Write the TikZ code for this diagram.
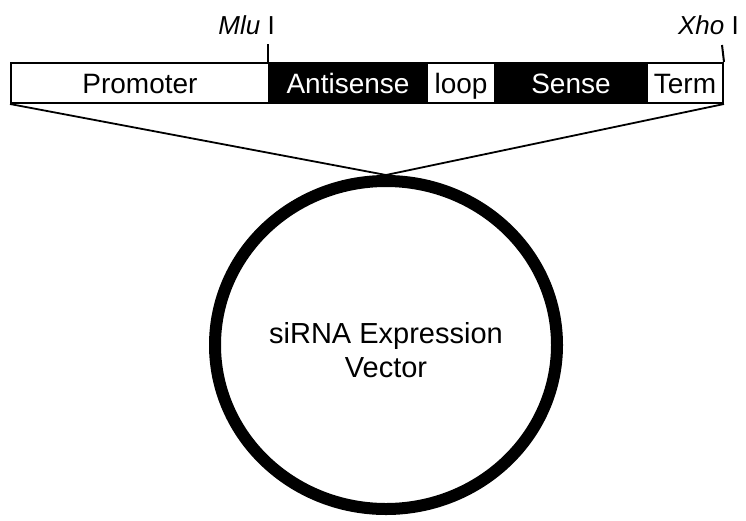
\documentclass[tikz,border=0pt]{standalone}
\usepackage{fontspec}
\setmainfont{Liberation Sans}
\usetikzlibrary{shapes.geometric}
\begin{document}
\begin{tikzpicture}[x=1pt,y=-1pt,
  seg/.style={draw=black,line width=2pt,minimum height=40pt,inner sep=0pt,anchor=north west,text height=22pt,text depth=2pt,font=\fontsize{28}{30}\selectfont},
  wseg/.style={seg,fill=white,text=black},
  bseg/.style={seg,fill=black,text=white},
  link/.style={line width=1.8pt},
  tick/.style={line width=2pt},
  site/.style={font=\fontsize{26}{28}\selectfont,inner sep=0pt,anchor=east}]
\useasboundingbox (0,0) rectangle (746,520);
\node[wseg,minimum width=258pt] (prom) at (10,62) {Promoter};
\node[bseg,minimum width=158pt] (anti) at (268,62) {Antisense};
\node[wseg,minimum width=68pt] (loop) at (426,62) {loop};
\node[bseg,minimum width=152pt] (sense) at (494,62) {Sense};
\node[wseg,minimum width=76pt] (term) at (646,62) {Term};
\node[draw=black,line width=12pt,ellipse,minimum width=342pt,minimum height=328pt] (vec) at (386,345) {};
\node[align=center,font=\fontsize{29}{34}\selectfont] (vtext) at (386,350) {siRNA Expression\\Vector};
\coordinate (mlutop) at (268,44);
\coordinate (xhotop) at (722,45);
\draw[tick] (mlutop) -- (anti.north west);
\draw[tick] (xhotop) -- (term.north east);
\node[site] (mlu) at (275,25) {\textit{Mlu} I};
\node[site] (xho) at (739,25) {\textit{Xho} I};
\draw[link] (prom.south west) -- (vec.north);
\draw[link] (term.south east) -- (vec.north);
\end{tikzpicture}
\end{document}
